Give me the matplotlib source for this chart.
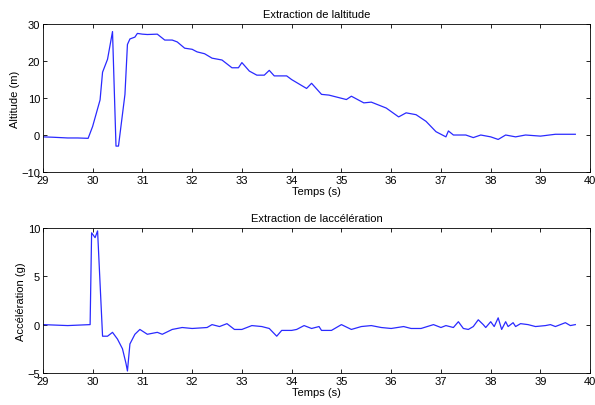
import matplotlib.pyplot as plt

# altitude (m) vs time (s)
t_alt = [29.0, 29.2, 29.5, 29.7, 29.91, 30.0, 30.15, 30.2, 30.3, 30.4, 30.47, 30.52, 30.65,
         30.7, 30.75, 30.85, 30.9, 31.0, 31.1, 31.3, 31.45, 31.6, 31.7, 31.85, 32.0, 32.1,
         32.25, 32.4, 32.6, 32.8, 32.93, 33.0, 33.15, 33.3, 33.45, 33.55, 33.65, 33.9, 34.0,
         34.3, 34.4, 34.6, 34.75, 35.1, 35.2, 35.45, 35.6, 35.9, 36.15, 36.3, 36.5, 36.7,
         36.9, 37.1, 37.15, 37.25, 37.5, 37.65, 37.8, 38.0, 38.15, 38.3, 38.5, 38.7, 39.0,
         39.3, 39.7]
alt = [-0.5, -0.6, -0.8, -0.8, -0.9, 2.3, 9.5, 17.0, 20.5, 28.0, -3.0, -3.0, 11.0,
       24.5, 26.0, 26.5, 27.5, 27.3, 27.2, 27.3, 25.7, 25.7, 25.2, 23.5, 23.2, 22.5,
       22.0, 20.8, 20.3, 18.2, 18.2, 19.6, 17.3, 16.2, 16.2, 17.5, 16.0, 16.0, 15.0,
       12.6, 14.0, 11.0, 10.8, 9.6, 10.5, 8.7, 8.9, 7.3, 4.9, 6.0, 5.5, 3.7,
       0.9, -0.5, 1.1, 0.0, 0.0, -0.7, 0.0, -0.5, -1.2, 0.0, -0.5, 0.0, -0.3,
       0.2, 0.2]

# acceleration (g) vs time (s)
t_acc = [29.0, 29.5, 29.95, 29.98, 30.05, 30.1, 30.2, 30.3, 30.4, 30.5, 30.6, 30.67, 30.7,
         30.75, 30.85, 30.95, 31.1, 31.3, 31.4, 31.6, 31.8, 32.0, 32.3, 32.4, 32.55, 32.7,
         32.85, 33.0, 33.2, 33.4, 33.55, 33.7, 33.8, 34.0, 34.1, 34.25, 34.4, 34.55, 34.6,
         34.8, 35.0, 35.2, 35.4, 35.6, 35.8, 36.0, 36.25, 36.4, 36.6, 36.85, 37.0, 37.1,
         37.25, 37.35, 37.45, 37.55, 37.65, 37.75, 37.85, 37.9, 38.0, 38.07, 38.15, 38.22,
         38.3, 38.35, 38.45, 38.5, 38.6, 38.75, 38.9, 39.1, 39.2, 39.3, 39.5, 39.6, 39.7]
acc = [0.0, -0.1, 0.0, 9.5, 9.0, 9.7, -1.2, -1.2, -0.8, -1.5, -2.5, -4.0, -4.8,
       -2.0, -1.0, -0.5, -1.0, -0.8, -1.0, -0.5, -0.3, -0.4, -0.3, 0.0, -0.2, 0.1,
       -0.5, -0.5, -0.1, -0.2, -0.4, -1.2, -0.6, -0.6, -0.5, -0.1, -0.4, -0.2, -0.6,
       -0.6, 0.0, -0.5, -0.2, -0.1, -0.3, -0.4, -0.2, -0.4, -0.4, 0.0, -0.3, -0.1,
       -0.3, 0.3, -0.4, -0.5, -0.2, 0.5, 0.0, -0.3, 0.3, -0.2, 0.7, -0.5,
       0.3, -0.2, 0.2, -0.2, 0.1, 0.0, -0.2, -0.1, 0.0, -0.2, 0.2, -0.1, 0.0]

plt.rcParams['font.family'] = ['Liberation Sans', 'DejaVu Sans']
plt.rcParams['font.size'] = 8

fig = plt.figure(figsize=(5.95, 4.06), dpi=100)
ax1 = fig.add_axes([0.072, 0.574, 0.92, 0.364])
ax2 = fig.add_axes([0.072, 0.079, 0.92, 0.357])

for ax, t, y, yl, title, lim, ticks in [
        (ax1, t_alt, alt, 'Altitude (m)', 'Extraction de laltitude', (-10, 30), [-10, 0, 10, 20, 30]),
        (ax2, t_acc, acc, 'Accélération (g)', 'Extraction de laccélération', (-5, 10), [-5, 0, 5, 10])]:
    ax.plot(t, y, color='#2a2aff', lw=0.9)
    ax.set_xlim(29, 40)
    ax.set_ylim(*lim)
    ax.set_xticks(range(29, 41))
    ax.set_yticks(ticks)
    ax.tick_params(direction='in', top=True, right=True, length=3, width=0.6, pad=2)
    ax.set_xlabel('Temps (s)', labelpad=1)
    ax.set_ylabel(yl, labelpad=1)
    ax.set_title(title, fontsize=8, pad=5)
    for s in ax.spines.values():
        s.set_linewidth(0.6)

fig.savefig('out.png', dpi=100)
